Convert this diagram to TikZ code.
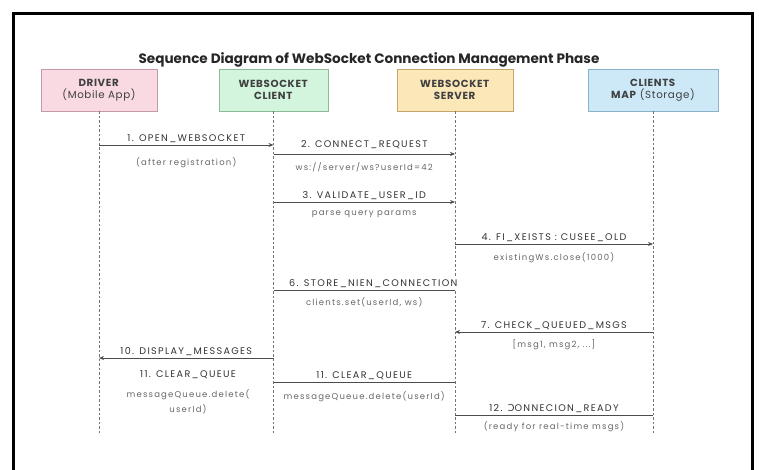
\documentclass[tikz,border=0pt]{standalone}
\usepackage{fontspec}
\setmainfont{Poppins}
\newfontfamily\widefont[LetterSpace=14]{Poppins}
\newfontfamily\boxfont[LetterSpace=6]{Poppins}
\newfontfamily\symfont{DejaVu Sans}
\usetikzlibrary{arrows.meta}
\definecolor{drvfill}{HTML}{F9DAE3}
\definecolor{drvline}{HTML}{C49AA6}
\definecolor{clifill}{HTML}{D3F4DD}
\definecolor{cliline}{HTML}{8DBB98}
\definecolor{srvfill}{HTML}{FBE7B8}
\definecolor{srvline}{HTML}{C7A66E}
\definecolor{mapfill}{HTML}{CDE9F8}
\definecolor{mapline}{HTML}{8CB2C8}
\tikzset{actor/.style={draw,line width=0.9pt,minimum height=42pt,align=center,
    text=black!75,font=\boxfont\fontsize{10.3}{12.5}\selectfont}}
\tikzset{life/.style={black!55,line width=0.7pt,dash pattern=on 2.5pt off 2pt}}
\tikzset{msg/.style={black!70,line width=0.8pt}}
\tikzset{tip/.style={-{Stealth[length=5pt,width=4pt]}}}
\tikzset{lbl/.style={text=black!80,inner sep=1.5pt,font=\widefont\fontsize{9.6}{11}\selectfont}}
\tikzset{note/.style={text=black!60,inner sep=1pt,align=center,font=\widefont\fontsize{8.5}{15}\selectfont}}

\begin{document}
\begin{tikzpicture}[x=1pt,y=-1pt]
\clip (0,0) rectangle (759,469);
% outer frame
\draw[line width=3pt] (13,13) rectangle (752,490);
\node[font=\bfseries\fontsize{13.6}{15}\selectfont,text=black!85] (title) at (369,60)
  {Sequence Diagram of WebSocket Connection Management Phase};
% the four participants
\node[actor,fill=drvfill,draw=drvline,minimum width=116pt] (driver) at (99,90)
  {\textbf{DRIVER}\\(Mobile App)};
\node[actor,fill=clifill,draw=cliline,minimum width=109pt] (client) at (273.5,90)
  {\textbf{WEBSOCKET}\\\textbf{CLIENT}};
\node[actor,fill=srvfill,draw=srvline,minimum width=116pt] (server) at (455,90)
  {\textbf{WEBSOCKET}\\\textbf{SERVER}};
\node[actor,fill=mapfill,draw=mapline,minimum width=130pt] (storage) at (653,90)
  {\textbf{CLIENTS}\\\textbf{MAP} (Storage)};
% lifelines
\foreach \n in {driver,client,server,storage}
  \draw[life] (\n.south) -- (\n |- 0,433);
% messages
\draw[msg,tip] (driver |- 0,145) -- node[lbl,above] {1. OPEN\_WEBSOCKET}
  node[note,below=11pt] {(after registration)} (client |- 0,145);
\draw[msg,tip] (client |- 0,154) -- node[lbl,above=3pt] {2. CONNECT\_REQUEST}
  node[note,below=7pt] {ws://server/ws?userId=42} (server |- 0,154);
\draw[msg,tip] (client |- 0,202) -- node[lbl,above] {3. VALIDATE\_USER\_ID}
  node[note,below=7pt] {parse query params} (server |- 0,202);
\draw[msg,tip] (server |- 0,244) -- node[lbl,above] {4. FI\_XEISTS : CUSEE\_OLD}
  node[note,below=7pt] {existingWs.close(1000)} (storage |- 0,244);
\draw[msg] (client |- 0,290) -- node[lbl,above,pos=0.55,fill=white] {6. STORE\_NIEN\_CONNECTION}
  node[note,below=6pt] {clients.set(userId, ws)} (server |- 0,290);
\draw[msg,tip] (storage |- 0,332) -- node[lbl,above] {7. CHECK\_QUEUED\_MSGS}
  node[note,below=6pt] {[msg1, msg2, ...]} (server |- 0,332);
\draw[msg,tip] (client |- 0,358) -- node[lbl,above] {10. DISPLAY\_MESSAGES} (driver |- 0,358);
\node[lbl] (clearleft) at (188,375) {11. CLEAR\_QUEUE};
\node[note,below=8pt] (deleteleft) at (clearleft.south) {messageQueue.delete(\\userId)};
\draw[msg] (client |- 0,382) -- node[lbl,above] {11. CLEAR\_QUEUE}
  node[note,below=8pt] {messageQueue.delete(userId)} (server |- 0,382);
\draw[msg] (storage |- 0,415) -- node[lbl,above] {12. {\symfont Ɔ}ONNECION\_READY}
  node[note,below=5pt] {(ready for real-time msgs)} (server |- 0,415);
\end{tikzpicture}
\end{document}
